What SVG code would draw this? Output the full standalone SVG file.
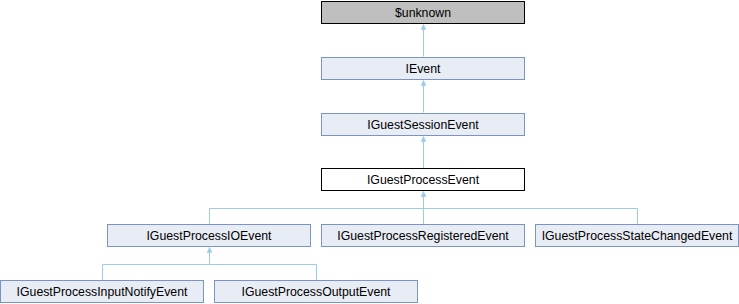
<svg xmlns="http://www.w3.org/2000/svg" width="739" height="304" viewBox="0 0 739 304">
<defs>
<style>
.n rect{fill:#e8ecf5;stroke:#7b93c7;stroke-width:1}
.n text{font-family:"Liberation Sans",Arial,sans-serif;font-size:12.3px;fill:#000;text-anchor:middle}
#unknown rect{fill:#bfbfbf;stroke:#000}
#IGuestProcessEvent rect{fill:#fff;stroke:#000}
.e{fill:none;stroke:#9ccbe6;stroke-width:1}
</style>
<marker id="ah" markerWidth="6" markerHeight="6" refX="5" refY="2.5" orient="auto" markerUnits="userSpaceOnUse" viewBox="0 0 6 5">
<path d="M0,0 L5,2.5 L0,5 z" fill="#9ccbe6" stroke="#9ccbe6" stroke-width="0.5"/>
</marker>
</defs>
<g id="edges">
<path class="e" d="M423.5,56.5 V24.5" marker-end="url(#ah)"/>
<path class="e" d="M423.5,112.5 V80.5" marker-end="url(#ah)"/>
<path class="e" d="M423.5,168.5 V136.5" marker-end="url(#ah)"/>
<path class="e" d="M209.5,224.5 V208.5 H637.5 V224.5"/>
<path class="e" d="M423.5,224.5 V191.5" marker-end="url(#ah)"/>
<path class="e" d="M102.5,280.5 V264.5 H316.5 V280.5"/>
<path class="e" d="M209.5,264.5 V247.5" marker-end="url(#ah)"/>
</g>
<g id="unknown" class="n"><rect x="321.5" y="1.5" width="203" height="22"/><text x="423" y="17">$unknown</text></g>
<g id="IEvent" class="n"><rect x="321.5" y="57.5" width="203" height="22"/><text x="423" y="73">IEvent</text></g>
<g id="IGuestSessionEvent" class="n"><rect x="321.5" y="113.5" width="203" height="22"/><text x="423" y="129">IGuestSessionEvent</text></g>
<g id="IGuestProcessEvent" class="n"><rect x="321.5" y="168.5" width="203" height="22"/><text x="423" y="184">IGuestProcessEvent</text></g>
<g id="IGuestProcessIOEvent" class="n"><rect x="107.5" y="224.5" width="203" height="22"/><text x="209" y="240">IGuestProcessIOEvent</text></g>
<g id="IGuestProcessRegisteredEvent" class="n"><rect x="321.5" y="224.5" width="203" height="22"/><text x="423" y="240">IGuestProcessRegisteredEvent</text></g>
<g id="IGuestProcessStateChangedEvent" class="n"><rect x="535.5" y="224.5" width="203" height="22"/><text x="637" y="240">IGuestProcessStateChangedEvent</text></g>
<g id="IGuestProcessInputNotifyEvent" class="n"><rect x="0.5" y="280.5" width="203" height="22"/><text x="102" y="296">IGuestProcessInputNotifyEvent</text></g>
<g id="IGuestProcessOutputEvent" class="n"><rect x="214.5" y="280.5" width="203" height="22"/><text x="316" y="296">IGuestProcessOutputEvent</text></g>
</svg>
